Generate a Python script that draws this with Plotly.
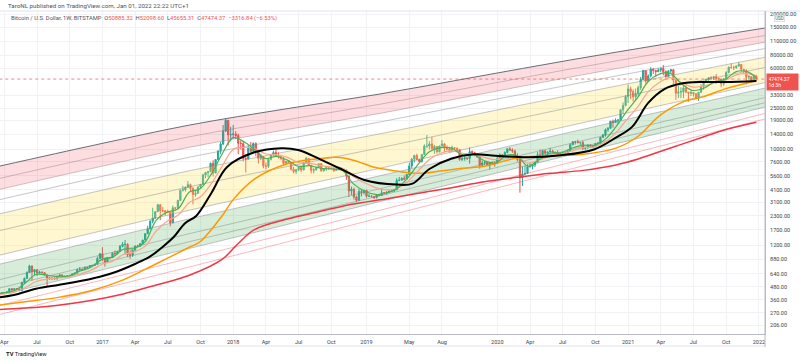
import math
import pandas as pd
import plotly.graph_objects as go

# ---------------- weekly BTC/USD (Bitstamp) candles, week starting 2016-03-21 ----------------
first_open = 410
last_open = 50885.32

c16 = [416,420,421,429,460,447,461,458,443,530,577,660,762,672,701,650,665,656,625,585,570,582,572,608,625,609,604,612,618,640,652,700,703,700,738,735,765,770,790,895,998]
h16 = [420,424,425,431,462,468,463,465,460,535,590,675,780,765,705,704,680,675,660,628,597,585,590,612,632,625,612,613,620,645,655,720,745,725,750,748,775,780,795,935,1000]
l16 = [405,411,415,418,427,443,440,450,435,440,520,570,655,550,620,610,645,645,615,480,565,565,565,565,600,603,590,600,605,612,625,648,680,690,700,725,730,755,765,788,890]

c17 = [905,825,920,915,1010,995,1050,1175,1230,1230,970,965,1080,1180,1180,1245,1350,1550,1730,2040,2200,2530,2950,2580,2580,2500,2500,1980,2750,2730,3230,4060,4090,4350,4590,4220,3700,3790,4360,4610,5700,6010,6140,7360,5950,8000,9700,11300,15000,19100,13800,13900]
h17 = [1150,910,925,925,1030,1070,1055,1210,1290,1350,1255,1075,1100,1200,1215,1260,1355,1575,1850,2100,2760,2560,3000,2980,2800,2610,2650,2530,2900,2800,3290,4120,4480,4400,4980,4700,4370,4100,4420,4620,5860,6100,6200,7500,7880,8100,9750,11800,17200,19700,19200,16500]
l17 = [850,750,820,880,910,950,985,1045,1150,980,930,890,930,1070,1150,1165,1230,1340,1550,1720,1950,2150,2500,2100,2500,2330,2450,1830,1950,2600,2650,3200,3950,3950,4320,4000,2970,3520,3780,4200,4570,5300,5430,6050,5500,5900,7900,9000,11000,14800,10900,12000]

c18 = [14100,13600,11500,11400,8200,8100,10300,9600,11400,9600,8200,8550,6950,6900,8050,8800,9350,8700,8500,8200,7350,7700,7500,6450,6150,6380,6750,6350,7400,8200,7030,6300,6400,6700,7300,6250,6500,6700,6600,6580,6280,6420,6400,6410,6360,5560,4000,4150,3500,3250,3960,3860,4050]
h18 = [17200,15000,14200,12200,12000,8900,10900,11800,11700,11700,9800,9100,8600,7500,8200,8950,9760,9950,9400,8900,8450,7750,7780,7550,6800,6500,6800,6800,7600,8500,8250,7150,6600,6850,7400,7400,6600,6800,6800,6700,6650,6900,6500,6480,6560,6400,5600,4400,4300,3600,4200,4150,4100]
l18 = [12700,12600,9000,10000,7700,6000,8000,9300,9400,8600,7300,7900,6600,6450,6650,7850,8650,8600,8200,7900,7070,7050,7450,6300,5900,5800,6200,6050,6300,7350,6950,5900,5900,6250,6650,6100,6150,6250,6350,6450,6100,6250,6350,6250,6300,5100,3500,3650,3300,3120,3200,3550,3700]

c19 = [3550,3560,3530,3450,3660,3610,3840,3830,3900,3990,3980,4100,5050,5070,5300,5200,5750,6950,8100,8750,8000,7650,8950,10800,10800,11300,10200,10700,9500,10800,11300,10300,10150,9600,10400,10300,10000,8000,8150,8300,8200,9550,9300,8800,8500,7050,7420,7500,7080,7500,7380,7350]
h19 = [4100,3750,3650,3550,3700,3700,4200,3900,3950,4000,4100,4150,5300,5450,5370,5630,5800,7450,8300,8900,9100,8200,9000,11200,13800,12000,13200,11100,10700,10900,12300,11500,10950,10600,10900,10500,10400,10100,8500,8650,8450,10500,9800,9500,8900,8500,7850,7750,7550,7550,7650,7650]
l19 = [3450,3500,3450,3350,3400,3550,3600,3700,3680,3830,3900,3950,4100,4950,5030,5050,5150,5700,6600,7500,7900,7450,7500,8900,10300,10000,9900,9100,9150,9400,10700,9500,9800,9350,9600,9900,9600,7800,7750,7800,7900,7300,8900,8700,8300,6550,6900,7050,7000,6450,7150,6850]

c20 = [8200,8900,8350,9350,10150,9900,9650,8550,8000,5350,5800,5880,6780,6900,7100,7550,8900,8700,9700,9180,9450,9650,9350,9300,9000,9070,9250,9200,9700,11100,11880,11850,11680,11700,10250,10330,11080,10780,10670,11370,11500,13030,13800,15470,15980,18700,18200,19150,19200,24100,26500,32200]
h20 = [8450,9200,8900,9600,10200,10500,10250,9950,9200,8150,6900,6950,7200,7450,7200,7750,9450,10000,9950,9900,9650,10400,9950,9600,9800,9300,9450,9300,9800,11400,11900,12100,12450,11800,12100,10600,11200,11100,10950,11500,11750,13250,14100,15900,16400,18800,19400,19900,19450,24200,28300,33300]
l20 = [7350,8050,8300,8300,9150,9700,9300,8450,7700,3850,4450,5650,5850,6750,6450,6800,7500,8600,8100,8800,8650,9350,9200,9250,8900,8950,9000,9050,9100,9650,11000,11150,11400,11100,9850,9900,10200,10400,10400,10550,11200,11400,12950,13250,14800,15800,16200,18100,17600,19000,21900,25900]

c21 = [38200,36000,32100,34300,39200,47200,57400,45200,50900,59000,57400,55800,57900,59800,56000,50100,56600,58200,46400,34700,35600,35800,39000,35600,34700,35300,34250,31800,35400,39900,44600,47000,49000,48800,49900,48300,47300,42700,47700,55000,61500,61300,61300,63300,65500,59000,57200,49400,50100,46700,50791.21,47474.37]
h21 = [41950,40100,37800,38500,40900,49700,58300,57400,52600,61700,60600,58400,60100,61200,64800,57500,58000,59600,59500,46600,40800,39500,40900,41300,35700,36600,35500,34600,35500,42300,45300,48100,49300,50500,51000,52900,48900,47400,48500,56500,62900,67000,63700,64300,69000,66300,59300,59100,51900,50500,52000,52098.6]
l21 = [28000,30400,28800,29200,32300,37300,46700,43000,44900,49200,53200,50400,55500,55400,51500,47000,48800,52900,42200,30000,31200,31100,31100,34800,28800,32700,32200,31100,29300,35300,37500,43800,43900,46300,46500,42800,44700,39600,40800,47100,53900,59600,57800,59400,62300,55600,53500,42000,46800,45500,45600,45655.31]

# ---------------- moving averages ----------------
green_ma = [415,420,440,520,630,620,600,610,680,740,
            880,930,1100,1120,1300,2100,2500,2700,3900,4200,5800,9000,
            13000,11800,10000,8200,8600,7900,6900,7000,6600,6500,6300,4700,
            4000,3700,3800,4200,5300,7300,9500,10400,10300,8900,8900,7800,
            7400,8800,8700,6900,8000,9200,9300,10300,11000,10900,12500,16500,
            23500,32000,45000,53000,54000,43000,37000,38500,44500,47000,56000,56000,49000]
salmon_ma = [405,410,425,470,540,570,585,600,640,690,
             790,850,980,1040,1180,1650,2050,2350,3100,3500,4700,6900,
             10000,10500,10200,9100,8900,8400,7500,7400,7000,6800,6600,5500,
             4800,4300,4100,4200,4900,6300,8000,9200,9700,9200,9000,8400,
             8000,8500,8500,7400,7900,8600,9000,9700,10400,10600,11800,14500,
             19500,26000,36000,44000,49000,44000,40000,40500,43500,46000,52000,53500,51000]

black_dates = ["2016-03-21","2016-05-01","2016-07-01","2016-09-01","2016-10-15","2016-12-26","2017-02-10","2017-04-01",
               "2017-05-15","2017-06-20","2017-07-20","2017-08-20","2017-09-20","2017-11-01","2017-12-15","2018-03-01",
               "2018-05-15","2018-07-01","2018-09-15","2018-11-01","2019-01-01","2019-04-01","2019-05-15","2019-07-01",
               "2019-09-01","2019-11-01","2020-01-01","2020-04-01","2020-07-01","2020-10-01","2020-12-01","2021-01-15",
               "2021-03-01","2021-04-15","2021-06-01","2021-08-01","2021-10-01","2021-12-27"]
black_ma = [380,400,460,500,530,600,670,790,940,1170,1450,1960,2300,3800,6800,9400,10300,9900,7600,6400,5100,4600,4700,6500,
            8200,9000,8700,8400,8800,10000,13000,16500,28000,38000,43000,44500,44500,45500]

orange_dates = ["2016-03-21","2016-06-01","2016-09-01","2016-12-01","2017-03-01","2017-06-01","2017-09-01","2017-10-01",
                "2017-12-01","2018-01-01","2018-03-01","2018-06-01","2018-09-01","2018-10-15","2018-12-01","2019-02-01",
                "2019-04-01","2019-06-01","2019-08-01","2019-10-01","2019-12-01","2020-03-01","2020-06-01","2020-09-01",
                "2020-12-01","2021-02-01","2021-04-01","2021-06-01","2021-08-01","2021-10-01","2021-12-27"]
orange_ma = [320,345,380,440,560,800,1150,1300,2300,3300,5200,7300,8200,8400,7900,6700,6200,5900,6200,6600,6900,8300,8700,
             9000,10300,13400,21000,28200,32000,38200,45800]

red_dates = ["2016-03-21","2016-06-01","2016-09-01","2016-12-01","2017-03-01","2017-06-01","2017-09-01","2017-12-01",
             "2018-01-15","2018-03-01","2018-06-01","2018-09-01","2018-12-01","2019-03-01","2019-06-01","2019-09-01",
             "2019-12-01","2020-03-01","2020-06-01","2020-09-01","2020-12-01","2021-02-01","2021-04-01","2021-06-01",
             "2021-08-01","2021-10-01","2021-12-27"]
red_ma = [290,300,320,355,410,500,620,880,1250,1700,2150,2550,3000,3350,3800,4300,4900,5400,5900,6300,7100,8100,9500,11200,
          13200,15500,18300]

# ---------------- growth-curve bands (upper / lower curve) ----------------
band_dates = ["2016-03-23","2016-12-12","2017-09-02","2018-05-25","2019-02-13","2019-11-05","2020-07-27",
              "2021-04-18","2022-01-20"]
upper_curve = [6935,11040,17180,24470,34090,49660,72340,103000,146800]
lower_curve = [400,671,1123,1881,3157,5284,8864,14840,25570]
band_levels = [1.0, 0.905, 0.82, 0.74, 0.63, 0.5, 0.31, 0.24, 0.12, 0.055, 0.0]
pink_levels = [-0.08, -0.15]

# ---------------- axes ----------------
x_range = ["2016-03-23", "2022-01-20"]
y_range_log = [2.228, 5.330]
x_tick_dates = ["2016-04-04","2016-07-04","2016-10-03","2017-01-02","2017-04-03","2017-07-03","2017-10-02","2018-01-01",
                "2018-04-02","2018-07-02","2018-10-01","2019-01-07","2019-05-06","2019-08-05","2020-01-06","2020-04-06",
                "2020-07-06","2020-10-05","2021-01-04","2021-04-05","2021-07-05","2021-10-04","2022-01-03"]
x_tick_labels = ["Apr","Jul","Oct","2017","Apr","Jul","Oct","2018","Apr","Jul","Oct","2019","May","Aug","2020","Apr",
                 "Jul","Oct","2021","Apr","Jul","Oct","2022"]
y_ticks = [206,270,360,480,640,880,1200,1700,2300,3100,4100,5600,7600,10000,14000,19000,25000,33000,
           60000,80000,110000,150000,200000]

# ---------------- build ----------------
closes = c16 + c17 + c18 + c19 + c20 + c21
opens = [first_open] + closes[:-1]
opens[-1] = last_open
highs = [max(h, o, c) for h, o, c in zip(h16 + h17 + h18 + h19 + h20 + h21, opens, closes)]
lows = [min(l, o, c) for l, o, c in zip(l16 + l17 + l18 + l19 + l20 + l21, opens, closes)]
dates = pd.date_range("2016-03-21", periods=len(closes), freq="W-MON")
ma_month_dates = (["2016-03-21"] + [d.strftime("%Y-%m-%d") for d in pd.date_range("2016-04-01", "2021-12-01", freq="MS")]
                  + ["2021-12-27"])

UP = "#26a69a"
DOWN = "#ef5350"


def level(f):
    return [10 ** (math.log10(lo) + f * (math.log10(up) - math.log10(lo))) for up, lo in zip(upper_curve, lower_curve)]


fig = go.Figure()

# band fills
for f_top, f_bot, col in [(1.0, 0.82, "rgba(242,54,69,0.17)"),
                          (0.63, 0.31, "rgba(255,224,80,0.27)"),
                          (0.24, 0.0, "rgba(76,175,80,0.22)")]:
    fig.add_trace(go.Scatter(x=band_dates, y=level(f_top), mode="lines", line=dict(width=0, shape="spline"),
                             hoverinfo="skip", showlegend=False))
    fig.add_trace(go.Scatter(x=band_dates, y=level(f_bot), mode="lines", line=dict(width=0, shape="spline"),
                             fill="tonexty", fillcolor=col, hoverinfo="skip", showlegend=False))

# band lines
for f in band_levels:
    if f == 1.0:
        col, w = "#6a6d78", 1.0
    elif f in (0.905, 0.82):
        col, w = "rgba(150,120,125,0.55)", 0.8
    else:
        col, w = "rgba(120,123,134,0.55)", 0.8
    fig.add_trace(go.Scatter(x=band_dates, y=level(f), mode="lines", line=dict(color=col, width=w, shape="spline"),
                             hoverinfo="skip", showlegend=False))
for f in pink_levels:
    fig.add_trace(go.Scatter(x=band_dates, y=level(f), mode="lines",
                             line=dict(color="rgba(242,54,69,0.35)", width=1, shape="spline"),
                             hoverinfo="skip", showlegend=False))

# last price line
fig.add_trace(go.Scatter(x=[dates[0], x_range[1]], y=[closes[-1], closes[-1]], mode="lines",
                         line=dict(color="rgba(239,83,80,0.7)", width=1, dash="dot"), hoverinfo="skip", showlegend=False))

# candles
fig.add_trace(go.Candlestick(x=dates, open=opens, high=highs, low=lows, close=closes,
                             increasing=dict(line=dict(color=UP, width=1), fillcolor=UP),
                             decreasing=dict(line=dict(color=DOWN, width=1), fillcolor=DOWN),
                             whiskerwidth=0, showlegend=False, hoverinfo="skip"))

# moving averages
fig.add_trace(go.Scatter(x=red_dates, y=red_ma, mode="lines", line=dict(color="#f23645", width=1.5, shape="spline"),
                         hoverinfo="skip", showlegend=False))
fig.add_trace(go.Scatter(x=orange_dates, y=orange_ma, mode="lines", line=dict(color="#ff9800", width=1.5, shape="spline"),
                         hoverinfo="skip", showlegend=False))
fig.add_trace(go.Scatter(x=ma_month_dates, y=salmon_ma, mode="lines", line=dict(color="#f7a68c", width=1.2, shape="spline"),
                         hoverinfo="skip", showlegend=False))
fig.add_trace(go.Scatter(x=ma_month_dates, y=green_ma, mode="lines", line=dict(color="#4caf50", width=1.2, shape="spline"),
                         hoverinfo="skip", showlegend=False))
fig.add_trace(go.Scatter(x=black_dates, y=black_ma, mode="lines", line=dict(color="#000000", width=2, shape="spline"),
                         hoverinfo="skip", showlegend=False))

TXT = "#3b3f4a"
fig.update_layout(
    width=800, height=362,
    margin=dict(l=0, r=35, t=11, b=28),
    paper_bgcolor="white", plot_bgcolor="white",
    showlegend=False,
    font=dict(family="Roboto, Arial, sans-serif", size=5.5, color=TXT),
    xaxis=dict(type="date", range=x_range, tickmode="array", tickvals=x_tick_dates, ticktext=x_tick_labels,
               showgrid=True, gridcolor="#f0f2f6", gridwidth=1, zeroline=False, ticks="",
               showline=True, linecolor="#b8bbc4", linewidth=1, tickfont=dict(size=5.5, color=TXT),
               rangeslider=dict(visible=False), ticklabelstandoff=2),
    yaxis=dict(type="log", range=y_range_log, side="right", tickmode="array", tickvals=y_ticks,
               ticktext=[f"{v:.2f}" for v in y_ticks], showgrid=True, gridcolor="#f0f2f6", gridwidth=1,
               zeroline=False, ticks="", showline=True, linecolor="#b8bbc4", linewidth=1,
               tickfont=dict(size=5.5, color=TXT), ticklabelstandoff=3),
)

shapes = [
    dict(type="line", xref="paper", yref="paper", x0=0, x1=800 / 765, y0=1.0, y1=1.0,
         line=dict(color="#e0e3eb", width=1)),
    dict(type="line", xref="paper", yref="paper", x0=0, x1=1.0, y0=-12 / 323, y1=-12 / 323,
         line=dict(color="#e0e3eb", width=1)),
    dict(type="line", xref="paper", yref="paper", x0=1.0, x1=1.0, y0=-13 / 323, y1=1.0,
         line=dict(color="#b8bbc4", width=1)),
]
fig.update_layout(shapes=shapes)

red_span = '<span style="color:#ef5350">'
legend_txt = ("Bitcoin / U.S. Dollar, 1W, BITSTAMP&nbsp; O" + red_span + "50885.32</span>&nbsp; H" + red_span +
              "52098.60</span>&nbsp; L" + red_span + "45655.31</span>&nbsp; C" + red_span + "47474.37</span>&nbsp; " +
              red_span + "\u22123316.84 (\u22126.53%)</span>")

annotations = [
    dict(text="TaroNL published on TradingView.com, Jan 01, 2022 22:22 UTC+1", xref="paper", yref="paper",
         x=6 / 765, y=(334 - 6) / 323, xanchor="left", yanchor="middle", showarrow=False,
         font=dict(size=6.2, color="#50535e")),
    dict(text=legend_txt, xref="paper", yref="paper", x=9 / 765, y=(334 - 19) / 323, xanchor="left",
         yanchor="middle", showarrow=False, font=dict(size=5.8, color="#50535e")),
    dict(text="USD", xref="paper", yref="paper", x=779 / 765, y=(334 - 18.5) / 323, xanchor="center",
         yanchor="middle", showarrow=False, font=dict(size=4.5, color="#50535e"), bgcolor="white",
         bordercolor="#c9ccd3", borderwidth=0.6, borderpad=0.6),
    dict(text="47474.37<br>1d 3h", xref="paper", yref="y", x=766 / 765, y=math.log10(closes[-1]),
         xanchor="left", yanchor="middle", yshift=-3, showarrow=False, align="left",
         font=dict(size=5, color="white"), bgcolor="#ef5350", borderpad=1.5, width=28),
    dict(text="<b>TV</b> TradingView", xref="paper", yref="paper", x=4 / 765, y=(334 - 354) / 323,
         xanchor="left", yanchor="middle", showarrow=False, font=dict(size=5.8, color="#131722")),
]
fig.update_layout(annotations=annotations)

fig.write_html("out.html", config={"displayModeBar": False, "staticPlot": True},
               post_script="document.body.style.margin='0';document.body.style.padding='0';"
                           "document.body.style.overflow='hidden';")
